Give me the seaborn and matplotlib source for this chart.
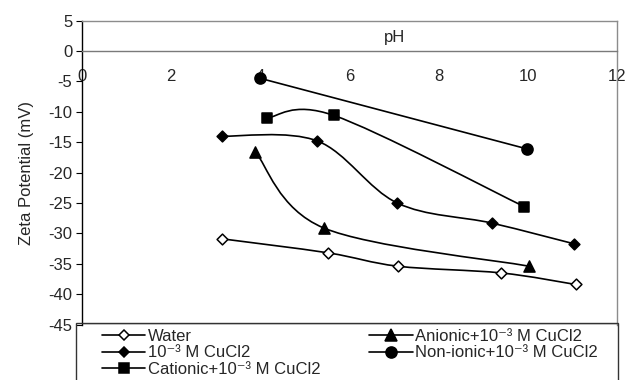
"""
Zeta potential vs pH for the different CuCl2 / surfactant systems
"""
import numpy as np
import matplotlib
matplotlib.use("Agg")
import matplotlib.pyplot as plt
from matplotlib.path import Path
from matplotlib.patches import PathPatch, Rectangle
from matplotlib.lines import Line2D
import seaborn as sns

# Data
ph_water = [3.15, 5.52, 7.09, 9.40, 11.07]
zeta_water = [-30.9, -33.2, -35.4, -36.5, -38.4]

ph_cucl2 = [3.15, 5.28, 7.07, 9.19, 11.03]
zeta_cucl2 = [-14.0, -14.8, -25.0, -28.3, -31.7]

ph_cationic = [4.15, 5.65, 9.92]
zeta_cationic = [-11.0, -10.6, -25.6]

ph_anionic = [3.89, 5.42, 10.03]
zeta_anionic = [-16.6, -29.1, -35.4]

ph_nonionic = [4.0, 9.98]
zeta_nonionic = [-4.5, -16.1]

x_ticks = [0, 2, 4, 6, 8, 10, 12]
y_ticks = [5, 0, -5, -10, -15, -20, -25, -30, -35, -40, -45]

# Package Settings
sns.set_style("white")
plt.rcParams['font.family'] = ['Liberation Sans', 'DejaVu Sans']
plt.rcParams['font.size'] = 12
plt.rcParams['axes.unicode_minus'] = False


def smooth_path(xs, ys):
    """Excel-like smoothed line: cubic Bezier through the points."""
    pts = np.column_stack([xs, ys]).astype(float)
    n = len(pts)
    verts = [pts[0]]
    codes = [Path.MOVETO]
    for i in range(n - 1):
        p0 = pts[max(i - 1, 0)]
        p1 = pts[i]
        p2 = pts[i + 1]
        p3 = pts[min(i + 2, n - 1)]
        verts += [p1 + (p2 - p0) / 6, p2 - (p3 - p1) / 6, p2]
        codes += [Path.CURVE4] * 3
    return Path(verts, codes)


series = [
    # label, x, y, marker, face, size
    ("Water", ph_water, zeta_water, "D", "white", 5.5),
    ("10\u207b\u00b3 M CuCl2", ph_cucl2, zeta_cucl2, "D", "black", 5.5),
    ("Cationic+10\u207b\u00b3 M CuCl2", ph_cationic, zeta_cationic, "s", "black", 7.5),
    ("Anionic+10\u207b\u00b3 M CuCl2", ph_anionic, zeta_anionic, "^", "black", 8),
    ("Non-ionic+10\u207b\u00b3 M CuCl2", ph_nonionic, zeta_nonionic, "o", "black", 8),
]

fig = plt.figure(figsize=(6.25, 3.8), dpi=100)
ax = fig.add_axes([82 / 625, 1 - 324.6 / 380, 535 / 625, 304 / 380])

handles = []
for label, xs, ys, mk, face, ms in series:
    ax.add_patch(PathPatch(smooth_path(xs, ys), facecolor="none",
                           edgecolor="black", lw=1.2, zorder=2))
    sns.scatterplot(x=xs, y=ys, marker=mk, s=ms ** 2, color=face,
                    edgecolor="black", linewidth=1.1, ax=ax, zorder=3,
                    legend=False)
    handles.append(Line2D([], [], color="black", lw=1.2, marker=mk,
                          markersize=ms, markerfacecolor=face,
                          markeredgecolor="black", markeredgewidth=1.1))

ax.set_xlim(0, 12)
ax.set_ylim(-45, 5)
ax.set_xticks(x_ticks)
ax.set_yticks(y_ticks)
ax.set_ylabel("Zeta Potential (mV)", fontsize=12, labelpad=10)
ax.text(0.585, 0.945, "pH", transform=ax.transAxes, ha="center",
        va="center", fontsize=12)

# Excel-like axes: x axis crossing at 0, grey plot-area border
ax.spines["bottom"].set_position(("data", 0))
ax.spines["bottom"].set_color("#7a7a7a")
ax.spines["top"].set_color("#8c8c8c")
ax.spines["right"].set_color("#8c8c8c")
ax.spines["left"].set_color("black")
for sp in ax.spines.values():
    sp.set_linewidth(1.0)
ax.axhline(-45, color="#555555", lw=1.0, zorder=1)
ax.tick_params(axis="x", direction="out", length=3, pad=10, labelsize=12,
               color="#555555")
ax.tick_params(axis="y", direction="out", length=4, pad=3, labelsize=12,
               color="black", left=True)

# Legend box below the plot area, cut off by the figure edge
fig.patches.append(Rectangle((76 / 625, -0.05), (618 - 76) / 625, 0.2,
                             transform=fig.transFigure, fill=False,
                             edgecolor="#333333", lw=1.0))
fig.legend(handles, [s[0] for s in series],
           loc="upper left", bbox_to_anchor=(102 / 625, 1 - 332.5 / 380,
                                             (598 - 102) / 625, 0.01),
           bbox_transform=fig.transFigure, mode="expand", ncol=2,
           frameon=False, borderpad=0, borderaxespad=0, fontsize=12,
           handlelength=2.6, handletextpad=0.15, labelspacing=0.1,
           columnspacing=1.0)

plt.savefig("out.png", dpi=100)
